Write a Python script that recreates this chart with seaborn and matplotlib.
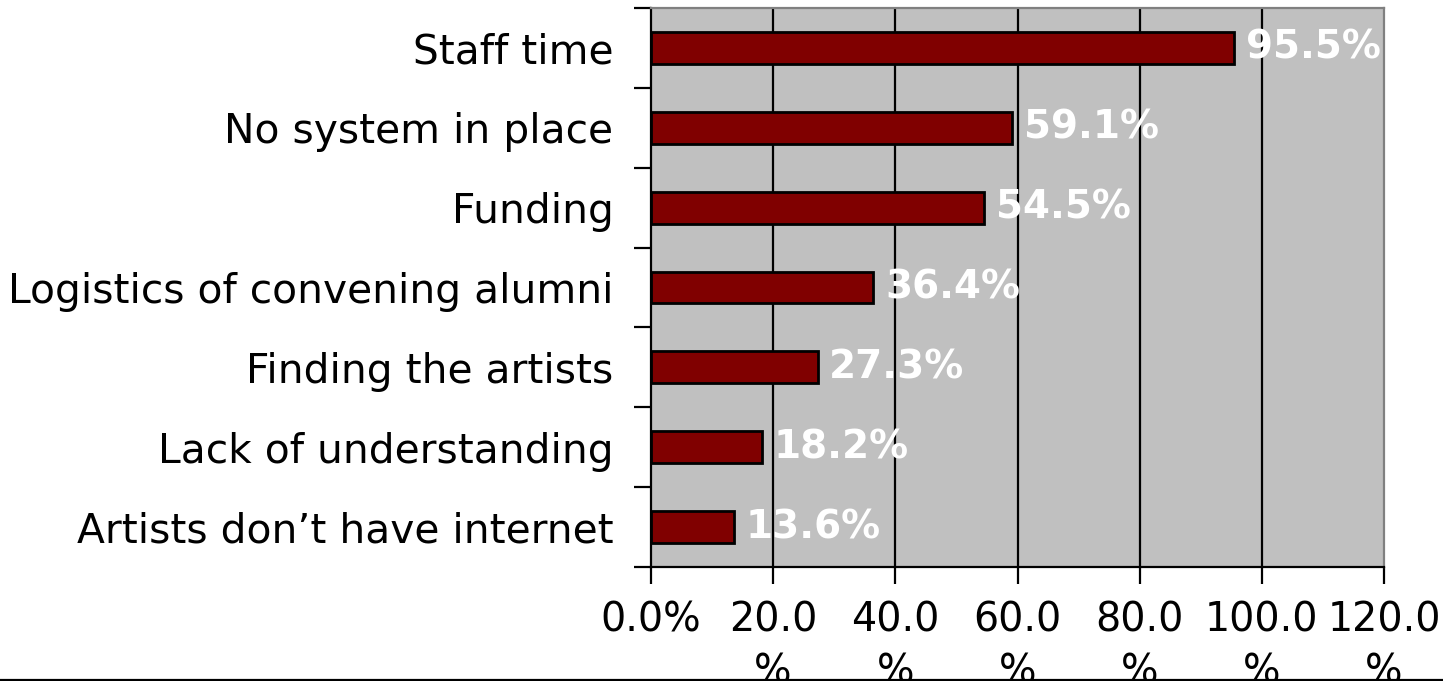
import matplotlib
matplotlib.use("Agg")
import matplotlib.pyplot as plt
from matplotlib.lines import Line2D
from matplotlib.ticker import FixedLocator
import seaborn as sns
import pandas as pd

# Survey results: obstacles to keeping in touch with artist alumni
categories = [
    "Staff time",
    "No system in place",
    "Funding",
    "Logistics of convening alumni",
    "Finding the artists",
    "Lack of understanding",
    "Artists don\u2019t have internet",
]
percentages = [95.5, 59.1, 54.5, 36.4, 27.3, 18.2, 13.6]
x_ticks = [0, 20, 40, 60, 80, 100, 120]
x_tick_labels = ["0.0%", "20.0\n%", "40.0\n%", "60.0\n%", "80.0\n%", "100.0\n%", "120.0\n%"]

sns.set_theme(style="white")
plt.rcParams["font.family"] = ["DejaVu Sans"]
plt.rcParams["text.color"] = "black"
plt.rcParams["xtick.color"] = "black"
plt.rcParams["ytick.color"] = "black"

df = pd.DataFrame({"category": categories, "pct": percentages})

W, H = 1443, 681
fig = plt.figure(figsize=(W / 100, H / 100), dpi=100)
ax = fig.add_axes([651 / W, 1 - 567 / H, (1384 - 651) / W, (567 - 8) / H])
ax.set_facecolor("#C0C0C0")

sns.barplot(
    data=df, x="pct", y="category", order=categories, orient="h",
    color="#800000", saturation=1, width=0.4,
    edgecolor="black", linewidth=2, ax=ax, zorder=3,
)

ax.set_xlim(0, 120)
ax.set_ylim(6.5, -0.5)
ax.set_xlabel("")
ax.set_ylabel("")

# vertical gridlines
for gx in x_ticks[1:-1]:
    ax.axvline(gx, color="black", linewidth=1.6, zorder=1)

# spines
for side in ("left", "bottom"):
    ax.spines[side].set_color("black")
    ax.spines[side].set_linewidth(1.6)
for side in ("top", "right"):
    ax.spines[side].set_color("#808080")
    ax.spines[side].set_linewidth(1.6)

# x axis ticks
ax.set_xticks(x_ticks)
ax.set_xticklabels(x_tick_labels, fontsize=28.5, va="top", linespacing=1.4,
                   color="black")
ax.tick_params(axis="x", direction="out", length=12, width=1.6,
               bottom=True, pad=12)

# y axis: labels at category centres, ticks at category boundaries
ax.set_yticks(range(len(categories)))
ax.set_yticklabels(categories, fontsize=29.3, color="black")
ax.tick_params(axis="y", which="major", length=0, pad=27, left=False)
ax.yaxis.set_minor_locator(FixedLocator([i - 0.5 for i in range(len(categories) + 1)]))
ax.tick_params(axis="y", which="minor", direction="out", length=12, width=1.6,
               left=True)

# value labels
for i, v in enumerate(percentages):
    ax.text(v + 1.9, i, f"{v:.1f}%", color="white", fontsize=28, fontweight="bold",
            va="center", ha="left", zorder=4)

fig.add_artist(Line2D([0, 1], [0.8 / H, 0.8 / H], color="black", linewidth=1.6,
                      transform=fig.transFigure))

fig.savefig("out.png", dpi=100, facecolor="white")
